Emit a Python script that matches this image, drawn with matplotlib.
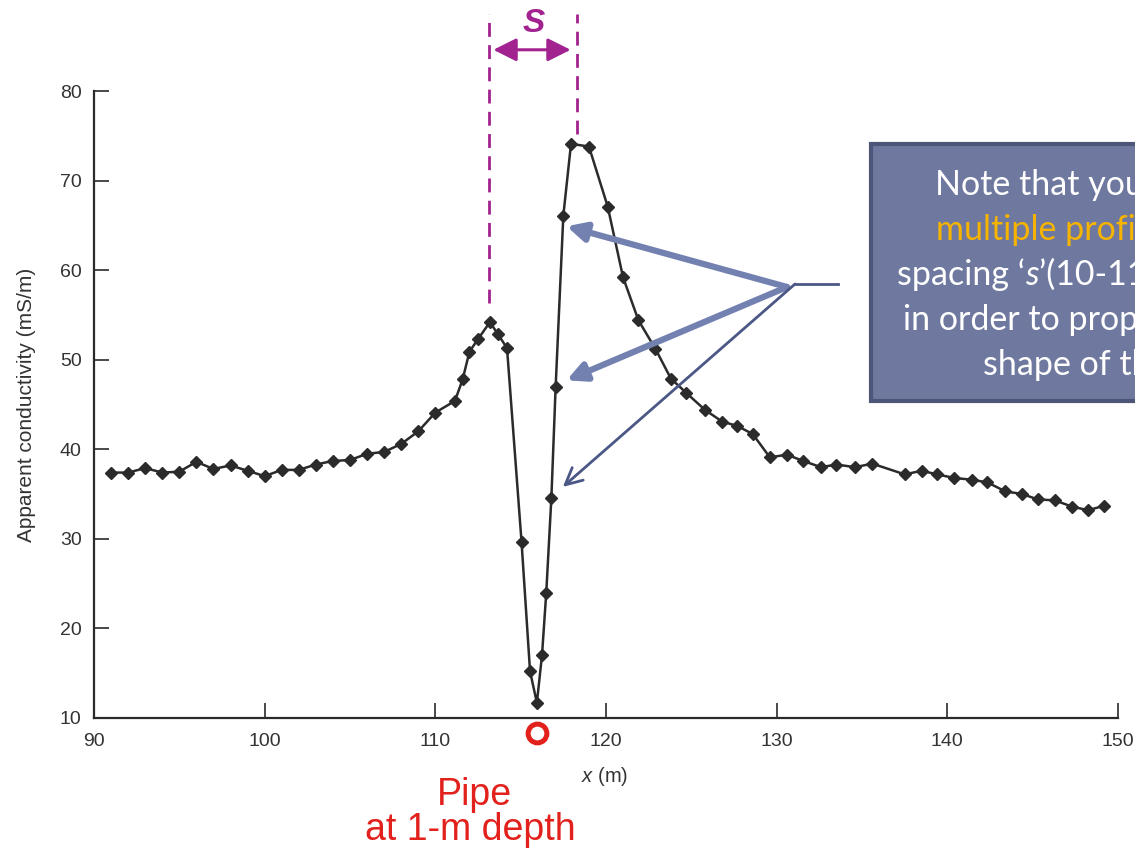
import matplotlib
matplotlib.use("Agg")
import matplotlib.pyplot as plt
from matplotlib.patches import Rectangle

plt.rcParams["mathtext.fontset"] = "custom"
plt.rcParams["mathtext.it"] = "Liberation Sans:italic"
plt.rcParams["mathtext.rm"] = "Liberation Sans"

# ---------------- data ----------------
x_m = [91, 92, 93, 94, 95, 96, 97, 98, 99, 100, 101, 102, 103, 104, 105, 106, 107,
       108, 109, 110, 111.15, 111.6, 112.0, 112.5, 113.2, 113.65, 114.2, 115.05,
       115.55, 115.95, 116.25, 116.5, 116.8, 117.05, 117.5, 117.95, 119.0, 120.1,
       121.0, 121.9, 122.9, 123.8, 124.7, 125.8, 126.8, 127.7, 128.6, 129.6, 130.6,
       131.55, 132.6, 133.5, 134.6, 135.6, 137.5, 138.5, 139.4, 140.4, 141.45,
       142.35, 143.4, 144.4, 145.3, 146.3, 147.3, 148.25, 149.2]
cond = [37.4, 37.4, 37.9, 37.4, 37.5, 38.6, 37.8, 38.2, 37.6, 37.0, 37.7, 37.7, 38.3,
        38.7, 38.8, 39.5, 39.7, 40.6, 42.0, 44.1, 45.4, 47.8, 50.9, 52.3, 54.2, 52.9,
        51.3, 29.7, 15.2, 11.7, 17.0, 24.0, 34.6, 47.0, 66.1, 74.1, 73.8, 67.1, 59.2,
        54.4, 51.2, 47.9, 46.3, 44.4, 43.1, 42.6, 41.7, 39.1, 39.4, 38.7, 38.0, 38.3,
        38.0, 38.4, 37.2, 37.6, 37.2, 36.8, 36.6, 36.3, 35.3, 35.0, 34.4, 34.3, 33.6,
        33.2, 33.7]
x_ticks = [90, 100, 110, 120, 130, 140, 150]
y_ticks = [10, 20, 30, 40, 50, 60, 70, 80]
pipe_x = 115.95
s_left, s_right = 113.15, 118.33
arrow_targets = [(117.69, 64.9), (117.69, 47.7), (117.47, 35.8)]

W, H = 1135, 848
fig = plt.figure(figsize=(W / 100, H / 100), dpi=100)
fig.patch.set_facecolor("white")

def fp(x, y):
    return (x / W, 1 - y / H)

ax = fig.add_axes([94 / W, 1 - 718 / H, (1118 - 94) / W, (718 - 91) / H])
ax.set_xlim(90, 150)
ax.set_ylim(10, 80)
for s in ["top", "right"]:
    ax.spines[s].set_visible(False)
for s in ["left", "bottom"]:
    ax.spines[s].set_linewidth(1.6)
    ax.spines[s].set_color("#2a2a2a")
ax.set_xticks(x_ticks)
ax.set_yticks(y_ticks)
ax.tick_params(direction="in", length=11, width=1.2, colors="#2a2a2a",
               labelsize=14, labelcolor="#333333")
ax.tick_params(axis="x", pad=11)
ax.tick_params(axis="y", pad=9)
for lab in ax.get_xticklabels() + ax.get_yticklabels():
    lab.set_fontfamily("Liberation Sans")

ax.plot(x_m, cond, color="#2b2b2b", lw=1.8, marker="D", markersize=6.5,
        markerfacecolor="#2b2b2b", markeredgecolor="#2b2b2b", zorder=3)

ax.set_ylabel("Apparent conductivity (mS/m)", fontsize=15,
              family="Liberation Sans", color="#333333", labelpad=17)
fig.text(*fp(605, 777), r"$x$ (m)", fontsize=14.5, family="Liberation Sans",
         color="#333333", ha="center", va="center")

# S spacing marks
mag = "#a2228f"
ax.plot([s_left, s_left], [56.3, 88.6], color=mag, lw=2, ls=(0, (5, 3)),
        clip_on=False, zorder=2)
ax.plot([s_right, s_right], [75.2, 88.6], color=mag, lw=2, ls=(0, (5, 3)),
        clip_on=False, zorder=2)
ax.annotate("", xy=(s_left + 0.25, 84.6), xytext=(s_right - 0.4, 84.6),
            arrowprops=dict(arrowstyle="<|-|>,head_length=0.7,head_width=0.35",
                            color=mag, lw=2.2, mutation_scale=20,
                            shrinkA=0, shrinkB=0),
            annotation_clip=False)
ax.text((s_left + s_right) / 2 + 0.05, 87.5, "S", color=mag, fontsize=24,
        style="italic", weight="bold", family="Liberation Sans",
        ha="center", va="center", clip_on=False)

# pipe
red = "#e2211c"
ax.plot([pipe_x], [8.3], marker="o", markersize=13.5, markerfacecolor="white",
        markeredgecolor=red, markeredgewidth=3.6, clip_on=False, zorder=4)
fig.text(*fp(474, 795), "Pipe", color=red, fontsize=27,
         family="Liberation Sans", ha="center", va="center")
fig.text(*fp(470, 830), "at 1-m depth", color=red, fontsize=27,
         family="Liberation Sans", ha="center", va="center")

# note box
box_face = "#6f789f"
box_edge = "#4e5677"
fig.add_artist(Rectangle(fp(871, 401), 300 / W, (401 - 144) / H,
                         transform=fig.transFigure, facecolor=box_face,
                         edgecolor=box_edge, lw=3, zorder=5))

fam = ["Lato", "DejaVu Sans"]
fs = 24.5
fig.text(*fp(935, 195), "Note that you need", color="white", fontsize=fs,
         family=fam, ha="left", va="baseline", zorder=6)
fig.text(*fp(936, 240), "multiple profiles with", color="#f6b400", fontsize=fs,
         family=fam, ha="left", va="baseline", zorder=6)
fig.text(*fp(903, 330), "in order to properly see the", color="white",
         fontsize=fs, family=fam, ha="left", va="baseline", zorder=6)
fig.text(*fp(983, 375), "shape of the anomaly", color="white", fontsize=fs,
         family=fam, ha="left", va="baseline", zorder=6)

# mixed style line
fig.canvas.draw()
r = fig.canvas.get_renderer()
parts = [("spacing \u2018", "normal"), ("s", "italic"), ("\u2019(10-11 m)", "normal")]
xpos = 897
for txt, st in parts:
    t = fig.text(*fp(xpos, 285), txt, color="white", fontsize=fs, family=fam,
                 style=st, ha="left", va="baseline", zorder=6)
    bb = t.get_window_extent(renderer=r)
    xpos += bb.width

# callout arrows
join = (838, 284)
corner = (795, 284)
fig.add_artist(plt.Line2D([fp(*join)[0], fp(*corner)[0]],
                          [fp(*join)[1], fp(*corner)[1]],
                          transform=fig.transFigure, color="#4b5785", lw=2, zorder=4))
start = fp(787, 287)
for tgt in arrow_targets[:2]:
    ax.annotate("", xy=tgt, xycoords="data", xytext=start,
                textcoords="figure fraction",
                arrowprops=dict(arrowstyle="-|>", color="#7381b1", lw=4.5,
                                mutation_scale=28, shrinkA=0, shrinkB=0),
                annotation_clip=False, zorder=4)
ax.annotate("", xy=arrow_targets[2], xycoords="data", xytext=fp(*corner),
            textcoords="figure fraction",
            arrowprops=dict(arrowstyle="->", color="#4b5785", lw=2,
                            mutation_scale=30, shrinkA=0, shrinkB=0),
            annotation_clip=False, zorder=4)

fig.savefig("out.png", dpi=100, facecolor="white")
